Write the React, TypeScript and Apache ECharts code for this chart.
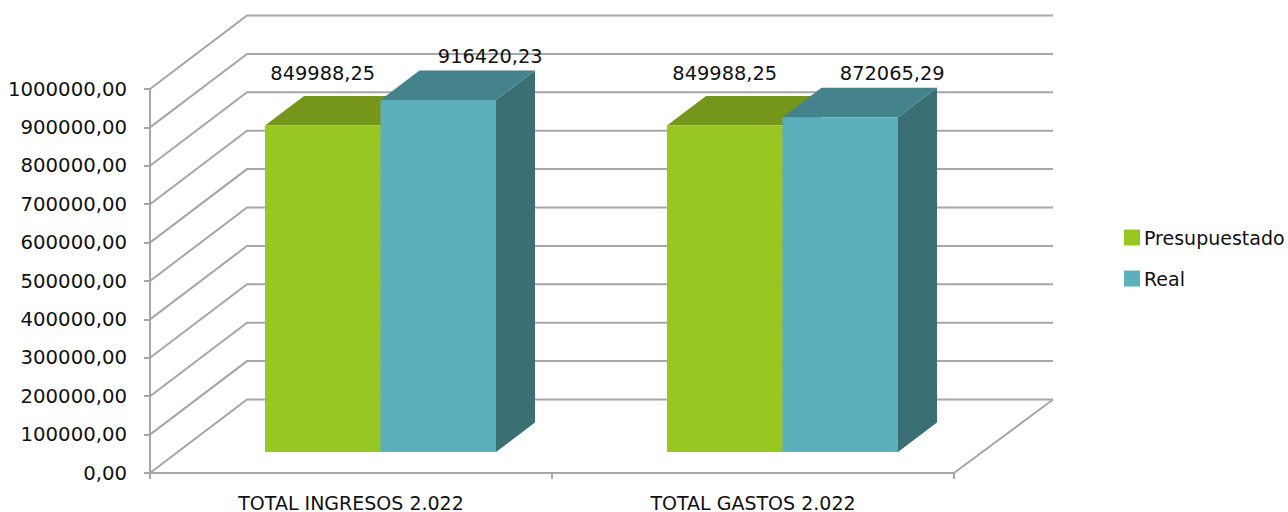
import React, { useEffect, useRef } from "react";
import * as echarts from "echarts";

const categories = ["TOTAL INGRESOS 2.022", "TOTAL GASTOS 2.022"];
const presupuestado = [849988.25, 849988.25];
const real = [916420.23, 872065.29];
const wallTicks = [0, 100000, 200000, 300000, 400000, 500000, 600000, 700000, 800000, 900000, 1000000];

const FONT = '19.4px "DejaVu Sans", sans-serif';
const GRID_LINE = "#a6a6a6";

const fmt = (v: number) => v.toFixed(2).replace(".", ",");

const WALL_DX = 97;
const WALL_DY = -73.5;
const BAR_W = 115.5;
const LIFT = 21;
const DEPTH_X = 39;
const DEPTH_Y = -29.5;

function wallItem(params: any, api: any) {
  const cs = params.coordSys;
  const value = api.value(1);
  const y = api.coord([0, value])[1];
  const children: any[] = [
    {
      type: "polyline",
      shape: {
        points: [
          [cs.x, y],
          [cs.x + WALL_DX, y + WALL_DY],
          [cs.x + cs.width + WALL_DX + 2, y + WALL_DY],
        ],
      },
      style: { fill: "none", stroke: GRID_LINE, lineWidth: 2 },
    },
  ];
  if (value === 0) {
    children.push({
      type: "line",
      shape: {
        x1: cs.x + cs.width,
        y1: y,
        x2: cs.x + cs.width + WALL_DX + 2,
        y2: y + WALL_DY,
      },
      style: { stroke: GRID_LINE, lineWidth: 2 },
    });
  }
  return { type: "group", children };
}

function barItem(
  side: -1 | 1,
  front: string,
  top: string,
  dark: string,
  labelDx: number,
  labelDy: number,
) {
  return (_params: any, api: any) => {
    const idx = api.value(0);
    const value = api.value(1);
    const centre = api.coord([idx, 0])[0] + 29.5;
    const base = api.coord([idx, 0])[1] - LIFT;
    const head = api.coord([idx, value])[1] - LIFT;
    const x0 = side < 0 ? centre - BAR_W : centre;
    const x1 = x0 + BAR_W;
    return {
      type: "group",
      children: [
        {
          type: "polygon",
          shape: {
            points: [
              [x1, base],
              [x1 + DEPTH_X, base + DEPTH_Y],
              [x1 + DEPTH_X, head + DEPTH_Y],
              [x1, head],
            ],
          },
          style: { fill: dark },
        },
        {
          type: "polygon",
          shape: {
            points: [
              [x0, head],
              [x0 + DEPTH_X, head + DEPTH_Y],
              [x1 + DEPTH_X, head + DEPTH_Y],
              [x1, head],
            ],
          },
          style: { fill: top },
        },
        {
          type: "rect",
          shape: { x: x0, y: head, width: BAR_W, height: base - head },
          style: { fill: front },
        },
        {
          type: "text",
          style: {
            text: fmt(value),
            x: (x0 + x1) / 2 + labelDx,
            y: head + labelDy,
            align: "center",
            verticalAlign: "middle",
            font: FONT,
            fill: "#111",
          },
        },
      ],
    };
  };
}

export default function App() {
  const ref = useRef<HTMLDivElement>(null);
  useEffect(() => {
    const chart = echarts.init(ref.current!, null, { renderer: "svg" });
    chart.setOption({
      animation: false,
      backgroundColor: "#fff",
      textStyle: { fontFamily: '"DejaVu Sans", sans-serif' },
      grid: { left: 150, right: 334, top: 89, bottom: 39 },
      legend: {
        data: ["Presupuestado", "Real"],
        orient: "vertical",
        left: 1119,
        top: 223,
        itemWidth: 16,
        itemHeight: 16,
        itemGap: 22,
        icon: "rect",
        textStyle: { fontSize: 19, color: "#111", padding: [0, 0, 0, -1] },
      },
      xAxis: {
        type: "category",
        data: categories,
        axisLine: { lineStyle: { color: GRID_LINE, width: 2 } },
        axisTick: { show: true, length: 6, lineStyle: { color: GRID_LINE, width: 2 } },
        axisLabel: { color: "#111", fontSize: 19, margin: 20 },
        splitLine: { show: false },
      },
      yAxis: {
        type: "value",
        min: 0,
        max: 1000000,
        interval: 100000,
        axisLine: { show: true, lineStyle: { color: GRID_LINE, width: 2 } },
        axisTick: { show: true, length: 6, lineStyle: { color: GRID_LINE, width: 2 } },
        axisLabel: { color: "#111", fontSize: 19.7, margin: 23, formatter: (v: number) => fmt(v) },
        splitLine: { show: false },
      },
      series: [
        {
          type: "custom",
          name: "walls",
          z: 1,
          silent: true,
          encode: { x: 0, y: 1 },
          data: wallTicks.map((v) => [0, v]),
          renderItem: wallItem,
        },
        {
          type: "custom",
          name: "Presupuestado",
          z: 2,
          encode: { x: 0, y: 1 },
          itemStyle: { color: "#97c822" },
          data: presupuestado.map((v, i) => [i, v]),
          renderItem: barItem(-1, "#97c822", "#75961a", "#5d7a14", 0, -52),
        },
        {
          type: "custom",
          name: "Real",
          z: 3,
          encode: { x: 0, y: 1 },
          itemStyle: { color: "#5bb0bb" },
          data: real.map((v, i) => [i, v]),
          renderItem: barItem(1, "#5bb0bb", "#44828c", "#3a6f74", 52, -44),
        },
      ],
    });
    return () => chart.dispose();
  }, []);
  return (
    <div
      ref={ref}
      style={{ position: "fixed", left: 0, top: 0, width: 1288, height: 512 }}
    />
  );
}
